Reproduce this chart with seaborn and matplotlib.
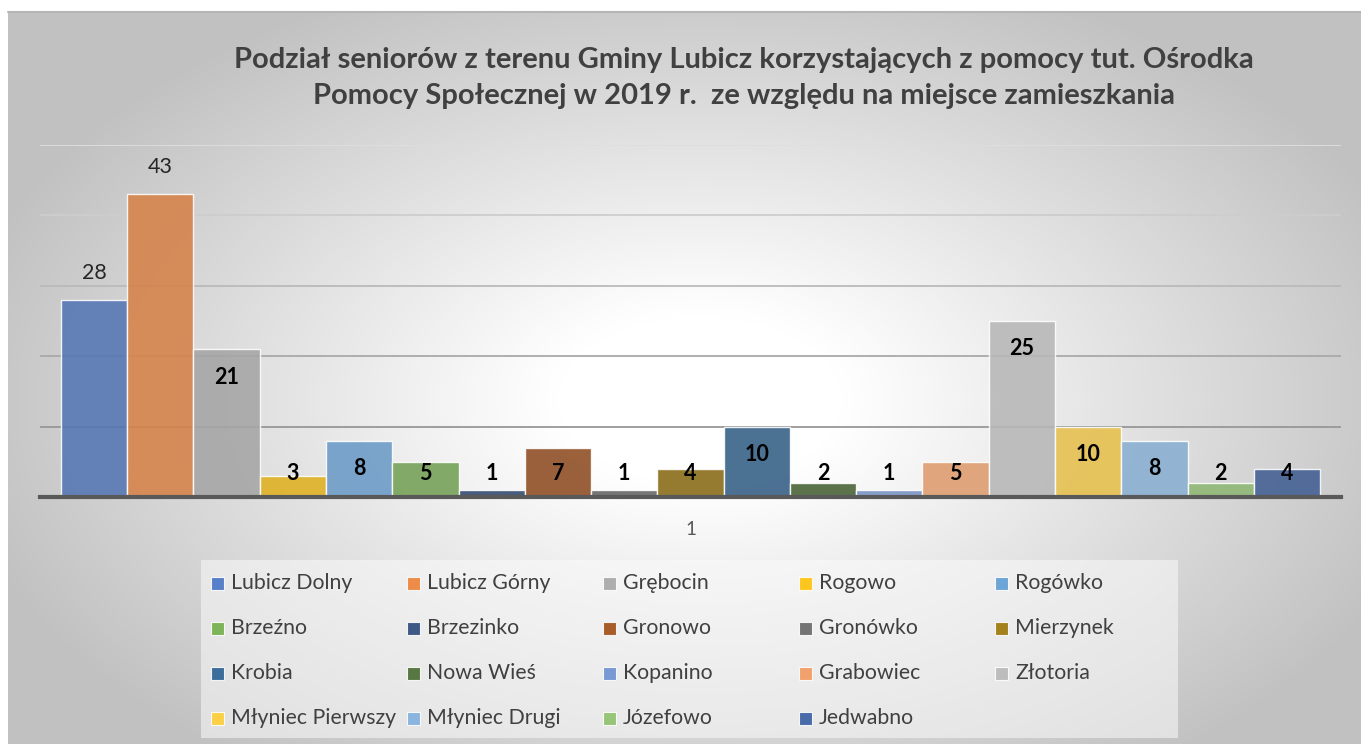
import numpy as np
import pandas as pd
import matplotlib
matplotlib.use("Agg")
import matplotlib.pyplot as plt
import seaborn as sns
from matplotlib.patches import Rectangle

# ---------------- data ----------------
names = ["Lubicz Dolny", "Lubicz Górny", "Grębocin", "Rogowo", "Rogówko",
         "Brzeźno", "Brzezinko", "Gronowo", "Gronówko", "Mierzynek",
         "Krobia", "Nowa Wieś", "Kopanino", "Grabowiec", "Złotoria",
         "Młyniec Pierwszy", "Młyniec Drugi", "Józefowo", "Jedwabno"]
values = [28, 43, 21, 3, 8, 5, 1, 7, 1, 4, 10, 2, 1, 5, 25, 10, 8, 2, 4]
group_label = "1"
title = ("Podział seniorów z terenu Gminy Lubicz korzystających z pomocy tut. Ośrodka\n"
         "Pomocy Społecznej w 2019 r.  ze względu na miejsce zamieszkania")
colors = ["#4472C4", "#ED7D31", "#A5A5A5", "#FFC000", "#5B9BD5",
          "#70AD47", "#264478", "#9E480E", "#636363", "#997300",
          "#255E91", "#43682B", "#698ED0", "#F1975A", "#B7B7B7",
          "#FFCD33", "#7CAFDD", "#8CC168", "#335AA1"]

df = pd.DataFrame({"group": [group_label] * len(names), "name": names, "value": values})

# ---------------- figure ----------------
W, H = 1361, 744
sns.set_theme(style="white")
plt.rcParams["font.family"] = ["Lato", "DejaVu Sans"]
fig = plt.figure(figsize=(W / 100, H / 100), dpi=100)
fig.patch.set_facecolor("white")

# radial gradient chart background
bx0, by_top = 8, 12
bg_ax = fig.add_axes([bx0 / W, 0, 1 - bx0 / W, (H - by_top) / H], zorder=-5)
gx = np.linspace(bx0, W, 400)
gy = np.linspace(by_top, H, 240)
X, Y = np.meshgrid(gx, gy)
R = np.sqrt(((X - 700) / 720) ** 2 + ((Y - 400) / 430) ** 2)
val = 1 - 0.24 * np.clip((R - 0.2) / 0.85, 0, 1)
bg_ax.imshow(np.dstack([val, val, val]), aspect="auto", extent=[0, 1, 0, 1],
             interpolation="bilinear")
bg_ax.set_axis_off()
bg_ax.plot([0, 1], [1, 1], color="#B5B5B5", lw=1.5, transform=bg_ax.transAxes, clip_on=False)

# main plot area
px0, px1 = 40, 1341
py_base, py_top = 497, 144.5
ax = fig.add_axes([px0 / W, (H - py_base) / H, (px1 - px0) / W, (py_base - py_top) / H])
ax.patch.set_alpha(0)

sns.barplot(data=df, x="group", y="value", hue="name", hue_order=names,
            palette=colors, width=0.968, dodge=True, legend=False, ax=ax,
            alpha=0.88, edgecolor=(1, 1, 1, 0.7), linewidth=1.0, zorder=3)

ax.set_xlim(-0.5, 0.5)
ax.set_ylim(0, 50)
ax.set_yticks([10, 20, 30, 40, 50])
ax.set_yticklabels([])
ax.tick_params(axis="y", length=0)
ax.tick_params(axis="x", length=0, pad=17, labelsize=13.5, labelcolor="#595959")
ax.set_xlabel("")
ax.set_ylabel("")
ax.yaxis.grid(True, zorder=0)
grid_cols = ["#979797", "#A9A9A9", "#BABABA", "#CDCDCD", "#DEDEDE"]
for gl, c in zip(ax.get_ygridlines(), grid_cols):
    gl.set_color(c)
    gl.set_linewidth(1.3)
for s in ["left", "right", "top"]:
    ax.spines[s].set_visible(False)
ax.spines["bottom"].set_color("#595959")
ax.spines["bottom"].set_linewidth(3)
ax.spines["bottom"].set_zorder(4)
ax.set_axisbelow(True)

# data labels
bars = [c.patches[0] for c in ax.containers]
for i, (b, v) in enumerate(zip(bars, values)):
    cx = b.get_x() + b.get_width() / 2
    if i < 2:
        ax.text(cx, v + 3.8, str(v), ha="center", va="center", fontsize=15.5,
                color="#262626", zorder=5)
    else:
        ax.text(cx, max(v - 4.0, 3.3), str(v), ha="center", va="center", fontsize=15.5,
                fontweight="bold", color="#000000", zorder=5)

# title
fig.text(744 / W, 1 - 78 / H, title, ha="center", va="center", fontsize=21,
         fontweight="bold", color="#404040", linespacing=1.45)

# legend (grid like the Excel layout)
lx0, lx1, ly0, ly1 = 201, 1178, 560, 738
lg = fig.add_axes([lx0 / W, (H - ly1) / H, (lx1 - lx0) / W, (ly1 - ly0) / H], zorder=2)
lg.set_xlim(lx0, lx1)
lg.set_ylim(ly1, ly0)
lg.set_axis_off()
lg.add_patch(Rectangle((lx0, ly0), lx1 - lx0, ly1 - ly0, facecolor="#FAFAFA",
                       alpha=0.55, edgecolor="none"))
col_x = [211, 407, 603, 799, 995]
row_y = [583, 628, 673, 718]
for i, (n, c) in enumerate(zip(names, colors)):
    cxp = col_x[i % 5]
    cyp = row_y[i // 5]
    lg.add_patch(Rectangle((cxp, cyp - 6.5), 13, 13, facecolor=c, alpha=0.88,
                           edgecolor=(1, 1, 1, 0.7), lw=0.8))
    lg.text(cxp + 20, cyp, n, ha="left", va="center", fontsize=15.3, color="#404040")

fig.savefig("out.png", dpi=100, facecolor="white")
